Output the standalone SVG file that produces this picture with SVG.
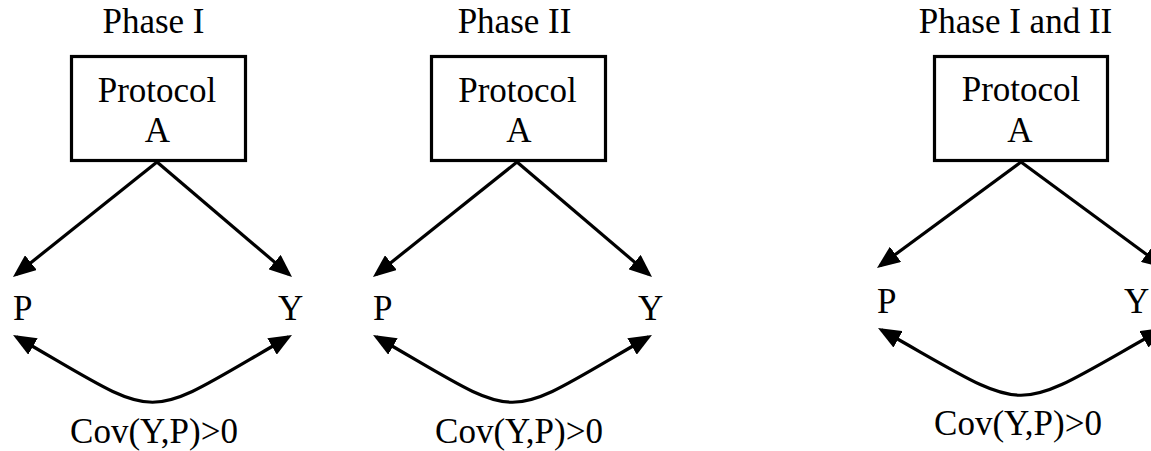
<svg xmlns="http://www.w3.org/2000/svg" width="1151" height="451" viewBox="0 0 1151 451">
<style>
text{font-family:"Liberation Serif","Times New Roman",serif;font-size:35px;fill:#000}
.c{text-anchor:middle}
.box{fill:#fff;stroke:#000;stroke-width:3.2}
.edge{fill:none;stroke:#000;stroke-width:3.2}
</style>
<defs>
<marker id="ah" markerUnits="userSpaceOnUse" markerWidth="23" markerHeight="19" viewBox="0 0 23 19" refX="19" refY="9.5" orient="auto-start-reverse">
<path d="M0,0 L23,9.5 L0,19 z" fill="#000"/>
</marker>
</defs>
<rect width="1151" height="451" fill="#fff"/>
<text class="c" x="153.5" y="33">Phase I</text>
<text class="c" x="514.5" y="33">Phase II</text>
<text class="c" x="1015.5" y="33">Phase I and II</text>
<g id="connectors">
<path class="edge" d="M157,162 L16.1,274.5" marker-end="url(#ah)"/>
<path class="edge" d="M157,162 L289,274.4" marker-end="url(#ah)"/>
<path class="edge" d="M16.5,337 C168,424 137,424 288.5,337" marker-start="url(#ah)" marker-end="url(#ah)"/>
<path class="edge" d="M517,162 L376.1,274.5" marker-end="url(#ah)"/>
<path class="edge" d="M517,162 L649,274.4" marker-end="url(#ah)"/>
<path class="edge" d="M376.5,337 C528,424 497,424 648.5,337" marker-start="url(#ah)" marker-end="url(#ah)"/>
<path class="edge" d="M1021,162 L880.2,265.6" marker-end="url(#ah)"/>
<path class="edge" d="M1021,162 L1161.8,265.6" marker-end="url(#ah)"/>
<path class="edge" d="M881.5,330 C1037,417 1005,417 1160.5,330" marker-start="url(#ah)" marker-end="url(#ah)"/>
</g>
<g id="protocolA1">
<rect class="box" x="71.5" y="56.5" width="174" height="104"/>
<text class="c" x="157" y="102">Protocol</text>
<text class="c" x="157.5" y="142">A</text>
</g>
<g id="P1"><text x="13" y="320">P</text></g>
<g id="Y1"><text x="278" y="320">Y</text></g>
<g id="cov1"><text class="c" x="154" y="443">Cov(Y,P)&gt;0</text></g>
<g id="protocolA2">
<rect class="box" x="431.5" y="56.5" width="174" height="104"/>
<text class="c" x="517.5" y="102">Protocol</text>
<text class="c" x="519" y="142">A</text>
</g>
<g id="P2"><text x="373" y="320">P</text></g>
<g id="Y2"><text x="638" y="320">Y</text></g>
<g id="cov2"><text class="c" x="519" y="443">Cov(Y,P)&gt;0</text></g>
<g id="protocolA3">
<rect class="box" x="934.5" y="56.5" width="173" height="104"/>
<text class="c" x="1021" y="101">Protocol</text>
<text class="c" x="1020" y="142">A</text>
</g>
<g id="P3"><text x="877" y="313">P</text></g>
<g id="Y3"><text x="1124" y="313">Y</text></g>
<g id="cov3"><text class="c" x="1018" y="435">Cov(Y,P)&gt;0</text></g>
</svg>
